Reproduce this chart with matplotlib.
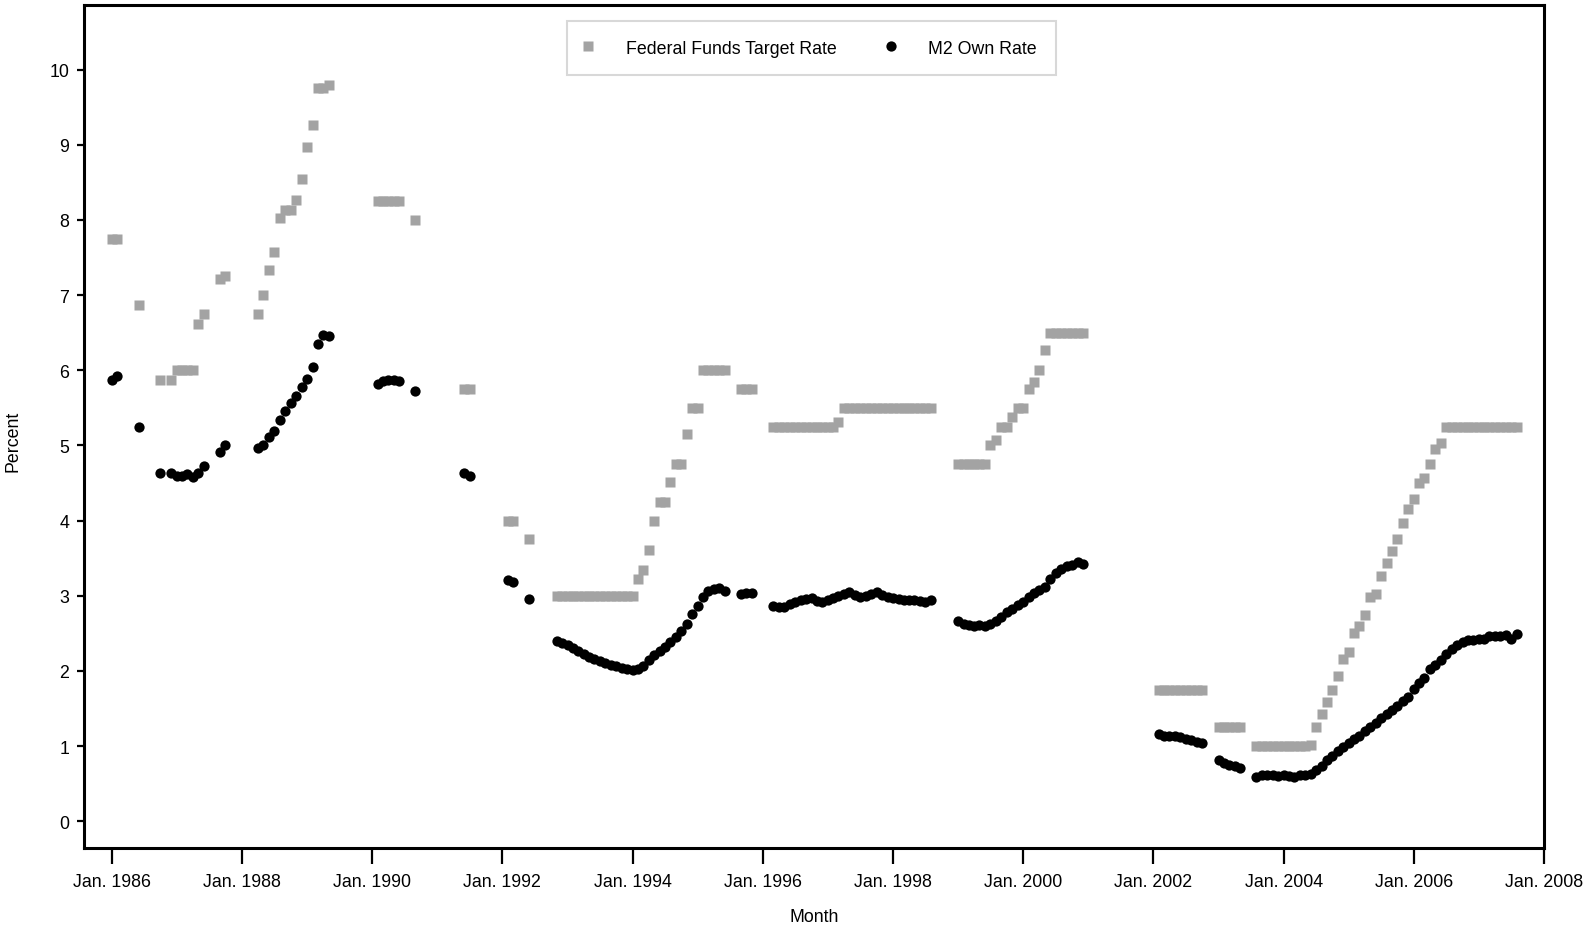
import numpy as np
import pandas as pd
import matplotlib
matplotlib.use('Agg')
import matplotlib.pyplot as plt

plt.rcParams['font.family'] = ['Liberation Sans', 'DejaVu Sans']

# months that have data (first month, last month) - the gaps are in the source
segments = [
    ('1986-01', '1986-02'), ('1986-06', '1986-06'), ('1986-10', '1986-10'),
    ('1986-12', '1987-06'), ('1987-09', '1987-10'), ('1988-04', '1989-05'),
    ('1990-02', '1990-06'), ('1990-09', '1990-09'), ('1991-06', '1991-07'),
    ('1992-02', '1992-03'), ('1992-06', '1992-06'), ('1992-11', '1995-06'),
    ('1995-09', '1995-11'), ('1996-03', '1998-08'), ('1999-01', '2000-12'),
    ('2002-02', '2002-10'), ('2003-01', '2003-05'), ('2003-08', '2007-08'),
]

# Federal funds target rate, monthly average (percent)
ff_rate = [
    7.75, 7.75,
    6.875,
    5.875,
    5.875, 6.0, 6.0, 6.0, 6.0, 6.62, 6.75,
    7.22, 7.26,
    6.75, 7.0, 7.33, 7.58, 8.02, 8.13, 8.13, 8.26, 8.55, 8.97, 9.27, 9.75, 9.76, 9.79,
    8.25, 8.25, 8.25, 8.25, 8.25,
    8.0,
    5.75, 5.75,
    4.0, 4.0,
    3.75,
    3.0, 3.0, 3.0, 3.0, 3.0, 3.0, 3.0, 3.0, 3.0, 3.0, 3.0, 3.0, 3.0, 3.0, 3.0,
    3.23, 3.34, 3.61, 4.0, 4.25, 4.25, 4.51, 4.75, 4.75, 5.15, 5.5, 5.5,
    6.0, 6.0, 6.0, 6.0, 6.0,
    5.75, 5.75, 5.75,
    5.25, 5.25, 5.25, 5.25, 5.25, 5.25, 5.25, 5.25, 5.25, 5.25, 5.25, 5.25, 5.31,
    5.5, 5.5, 5.5, 5.5, 5.5, 5.5, 5.5, 5.5, 5.5, 5.5, 5.5, 5.5, 5.5, 5.5, 5.5, 5.5, 5.5,
    4.75, 4.75, 4.75, 4.75, 4.75, 4.75, 5.0, 5.07, 5.25, 5.25, 5.38, 5.5, 5.5,
    5.75, 5.85, 6.0, 6.27, 6.5, 6.5, 6.5, 6.5, 6.5, 6.5, 6.5,
    1.75, 1.75, 1.75, 1.75, 1.75, 1.75, 1.75, 1.75, 1.75,
    1.25, 1.25, 1.25, 1.25, 1.25,
    1.0, 1.0, 1.0, 1.0, 1.0, 1.0, 1.0, 1.0, 1.0, 1.0, 1.01,
    1.26, 1.43, 1.59, 1.75, 1.93, 2.16, 2.25, 2.5, 2.6, 2.75, 2.98, 3.03,
    3.26, 3.44, 3.6, 3.75, 3.97, 4.16, 4.29, 4.5, 4.57, 4.75, 4.95, 5.03,
    5.25, 5.25, 5.25, 5.25, 5.25, 5.25, 5.25, 5.25, 5.25, 5.25, 5.25, 5.25, 5.25, 5.25,
]

# M2 own rate (percent)
m2_rate = [
    5.87, 5.92,
    5.24,
    4.63,
    4.64, 4.59, 4.60, 4.62, 4.58, 4.63, 4.73,
    4.91, 5.00,
    4.96, 5.00, 5.11, 5.19, 5.34, 5.46, 5.57, 5.66, 5.78, 5.88, 6.04, 6.35, 6.47, 6.45,
    5.82, 5.86, 5.87, 5.87, 5.86,
    5.73,
    4.64, 4.59,
    3.21, 3.18,
    2.96,
    2.40, 2.37, 2.34, 2.30, 2.26, 2.22, 2.19, 2.16, 2.13, 2.11, 2.08, 2.06, 2.04, 2.03, 2.01,
    2.02, 2.07, 2.14, 2.21, 2.26, 2.32, 2.39, 2.45, 2.53, 2.63, 2.76, 2.87,
    2.98, 3.06, 3.09, 3.10, 3.06,
    3.03, 3.04, 3.04,
    2.86, 2.85, 2.85, 2.89, 2.92, 2.94, 2.96, 2.97, 2.93, 2.92, 2.94, 2.97, 3.00,
    3.03, 3.05, 3.01, 2.98, 3.00, 3.02, 3.05, 3.01, 2.98, 2.97, 2.96, 2.95, 2.94, 2.94, 2.93, 2.92, 2.95,
    2.66, 2.63, 2.61, 2.60, 2.61, 2.60, 2.63, 2.67, 2.72, 2.78, 2.83, 2.88, 2.92,
    2.98, 3.04, 3.08, 3.12, 3.22, 3.31, 3.36, 3.39, 3.41, 3.45, 3.42,
    1.16, 1.14, 1.13, 1.13, 1.12, 1.10, 1.08, 1.05, 1.04,
    0.81, 0.78, 0.75, 0.73, 0.71,
    0.59, 0.61, 0.61, 0.61, 0.60, 0.61, 0.60, 0.59, 0.61, 0.62, 0.63,
    0.68, 0.74, 0.81, 0.87, 0.93, 0.99, 1.04, 1.09, 1.14, 1.20, 1.26, 1.31,
    1.37, 1.43, 1.48, 1.54, 1.60, 1.66, 1.76, 1.84, 1.90, 2.02, 2.08, 2.14,
    2.23, 2.29, 2.34, 2.38, 2.41, 2.41, 2.42, 2.43, 2.46, 2.46, 2.47, 2.48, 2.43, 2.49,
]

tick_years = list(range(1986, 2009, 2))
tick_labels = ['Jan. %d' % y for y in tick_years]

months = pd.DatetimeIndex(np.concatenate(
    [pd.date_range(a, b, freq='MS').values for a, b in segments]))

W, H = 1583, 928
fs = 12.8
fig = plt.figure(figsize=(W / 100, H / 100), dpi=100)
ax = fig.add_axes([84.3 / W, 1 - 849 / H, (1544 - 84.3) / W, (849 - 6) / H])

ax.plot(months, ff_rate, 's', ms=6.8, color='#a3a3a3', mec='none',
        label='Federal Funds Target Rate')
ax.plot(months, m2_rate, 'o', ms=7.4, color='black', mec='none',
        label='M2 Own Rate')

ax.set_xlim(pd.Timestamp('1985-07-31'), pd.Timestamp('2008-01-01'))
ax.set_ylim(-0.355, 10.86)
ax.set_xticks([pd.Timestamp('%d-01-01' % y) for y in tick_years])
ax.set_xticklabels(tick_labels)
ax.set_yticks(range(0, 11))

for s in ax.spines.values():
    s.set_linewidth(2.2)
ax.tick_params(axis='x', length=11.5, width=1.6, pad=6.5, labelsize=fs)
ax.tick_params(axis='y', length=5, width=1.6, pad=6, labelsize=fs)

fig.text(814 / W, 1 - 918 / H, 'Month', ha='center', va='center', fontsize=fs)
fig.text(13 / W, 1 - 441 / H, 'Percent', ha='center', va='center',
         rotation=90, fontsize=fs)

leg = ax.legend(loc='upper left', bbox_to_anchor=(567 / W, 1 - 22 / H),
                bbox_transform=fig.transFigure, ncol=2, fontsize=fs,
                frameon=True, fancybox=False, edgecolor='#d8d8d8', framealpha=1,
                borderaxespad=0, handlelength=0.25, handletextpad=2.0,
                columnspacing=2.92, borderpad=1.05)
leg.get_frame().set_linewidth(1.5)

fig.savefig('out.png', dpi=100)
